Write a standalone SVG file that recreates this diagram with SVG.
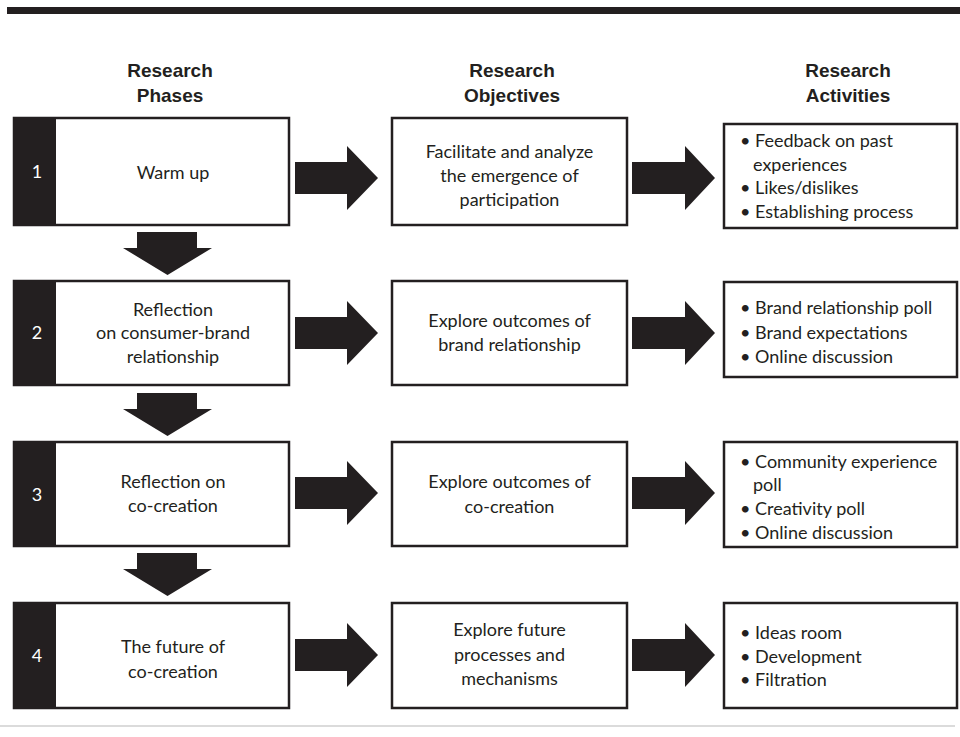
<svg xmlns="http://www.w3.org/2000/svg" width="960" height="737" viewBox="0 0 960 737">
<style>
.box{fill:#fff;stroke:#231f20;stroke-width:2.5}
.strip{fill:#231f20}
.arr{fill:#231f20}
.hd{font-family:"Liberation Sans",Arial,sans-serif;font-weight:bold;font-size:19px;fill:#231f20;text-anchor:middle}
.t{font-family:Lato,"Open Sans",sans-serif;font-size:18px;fill:#231f20;text-anchor:middle}
.a{font-family:Lato,"Open Sans",sans-serif;font-size:18px;fill:#231f20}
.n{font-family:Lato,"Open Sans",sans-serif;font-size:18px;fill:#fff;text-anchor:middle}
</style>
<rect width="960" height="737" fill="#fff"/>
<rect x="7" y="7" width="953" height="7" fill="#231f20"/>
<line x1="0" y1="726" x2="955" y2="726" stroke="#cfcfcf" stroke-width="1.5"/>

<g id="headers">
<text class="hd" x="170" y="77">Research</text>
<text class="hd" x="170" y="102">Phases</text>
<text class="hd" x="512" y="77">Research</text>
<text class="hd" x="512" y="102">Objectives</text>
<text class="hd" x="848" y="77">Research</text>
<text class="hd" x="848" y="102">Activities</text>
</g>

<g id="connectors">
<path class="arr" d="M295,162 H347 V146 L378,178 L347,210 V194 H295 Z"/>
<path class="arr" d="M632,162 H685 V146 L715,178 L685,210 V194 H632 Z"/>
<path class="arr" d="M295,317 H347 V301 L378,333 L347,365 V349 H295 Z"/>
<path class="arr" d="M632,317 H685 V301 L715,333 L685,365 V349 H632 Z"/>
<path class="arr" d="M295,477 H347 V461 L378,493 L347,525 V509 H295 Z"/>
<path class="arr" d="M632,477 H685 V461 L715,493 L685,525 V509 H632 Z"/>
<path class="arr" d="M295,639 H347 V623 L378,655 L347,687 V671 H295 Z"/>
<path class="arr" d="M632,639 H685 V623 L715,655 L685,687 V671 H632 Z"/>
<path class="arr" d="M137,232 H197 V248 H212 L167.5,275 L123,248 H137 Z"/>
<path class="arr" d="M137,393 H197 V409 H212 L167.5,436 L123,409 H137 Z"/>
<path class="arr" d="M137,553 H197 V569 H212 L167.5,596 L123,569 H137 Z"/>
</g>

<g id="phase1">
<rect class="box" x="14" y="118" width="275" height="107"/>
<rect class="strip" x="14" y="118" width="42" height="107"/>
<text class="n" x="37" y="178">1</text>
<text class="t" x="173" y="179">Warm up</text>
</g>
<g id="objective1">
<rect class="box" x="392" y="118" width="235" height="107"/>
<text class="t" x="509.5" y="158">Facilitate and analyze</text>
<text class="t" x="509.5" y="182">the emergence of</text>
<text class="t" x="509.5" y="206">participation</text>
</g>
<g id="activity1">
<rect class="box" x="724" y="124" width="233" height="104"/>
<text class="a" x="740" y="147">• Feedback on past</text>
<text class="a" x="753" y="171">experiences</text>
<text class="a" x="740" y="194">• Likes/dislikes</text>
<text class="a" x="740" y="218">• Establishing process</text>
</g>

<g id="phase2">
<rect class="box" x="14" y="281" width="275" height="104"/>
<rect class="strip" x="14" y="281" width="42" height="104"/>
<text class="n" x="37" y="339">2</text>
<text class="t" x="173" y="316">Reflection</text>
<text class="t" x="173" y="339">on consumer-brand</text>
<text class="t" x="173" y="363">relationship</text>
</g>
<g id="objective2">
<rect class="box" x="392" y="281" width="235" height="104"/>
<text class="t" x="509.5" y="327">Explore outcomes of</text>
<text class="t" x="509.5" y="351">brand relationship</text>
</g>
<g id="activity2">
<rect class="box" x="724" y="282" width="233" height="95"/>
<text class="a" x="740" y="314">• Brand relationship poll</text>
<text class="a" x="740" y="339">• Brand expectations</text>
<text class="a" x="740" y="363">• Online discussion</text>
</g>

<g id="phase3">
<rect class="box" x="14" y="442" width="275" height="104"/>
<rect class="strip" x="14" y="442" width="42" height="104"/>
<text class="n" x="37" y="501">3</text>
<text class="t" x="173" y="488">Reflection on</text>
<text class="t" x="173" y="512">co-creation</text>
</g>
<g id="objective3">
<rect class="box" x="392" y="442" width="235" height="104"/>
<text class="t" x="509.5" y="488">Explore outcomes of</text>
<text class="t" x="509.5" y="513">co-creation</text>
</g>
<g id="activity3">
<rect class="box" x="724" y="442" width="233" height="105"/>
<text class="a" x="740" y="468">• Community experience</text>
<text class="a" x="753" y="491">poll</text>
<text class="a" x="740" y="515">• Creativity poll</text>
<text class="a" x="740" y="539">• Online discussion</text>
</g>

<g id="phase4">
<rect class="box" x="14" y="603" width="275" height="105"/>
<rect class="strip" x="14" y="603" width="42" height="105"/>
<text class="n" x="37" y="662">4</text>
<text class="t" x="173" y="653">The future of</text>
<text class="t" x="173" y="678">co-creation</text>
</g>
<g id="objective4">
<rect class="box" x="392" y="603" width="235" height="105"/>
<text class="t" x="509.5" y="636">Explore future</text>
<text class="t" x="509.5" y="661">processes and</text>
<text class="t" x="509.5" y="685">mechanisms</text>
</g>
<g id="activity4">
<rect class="box" x="724" y="603" width="233" height="105"/>
<text class="a" x="740" y="639">• Ideas room</text>
<text class="a" x="740" y="663">• Development</text>
<text class="a" x="740" y="686">• Filtration</text>
</g>
</svg>
